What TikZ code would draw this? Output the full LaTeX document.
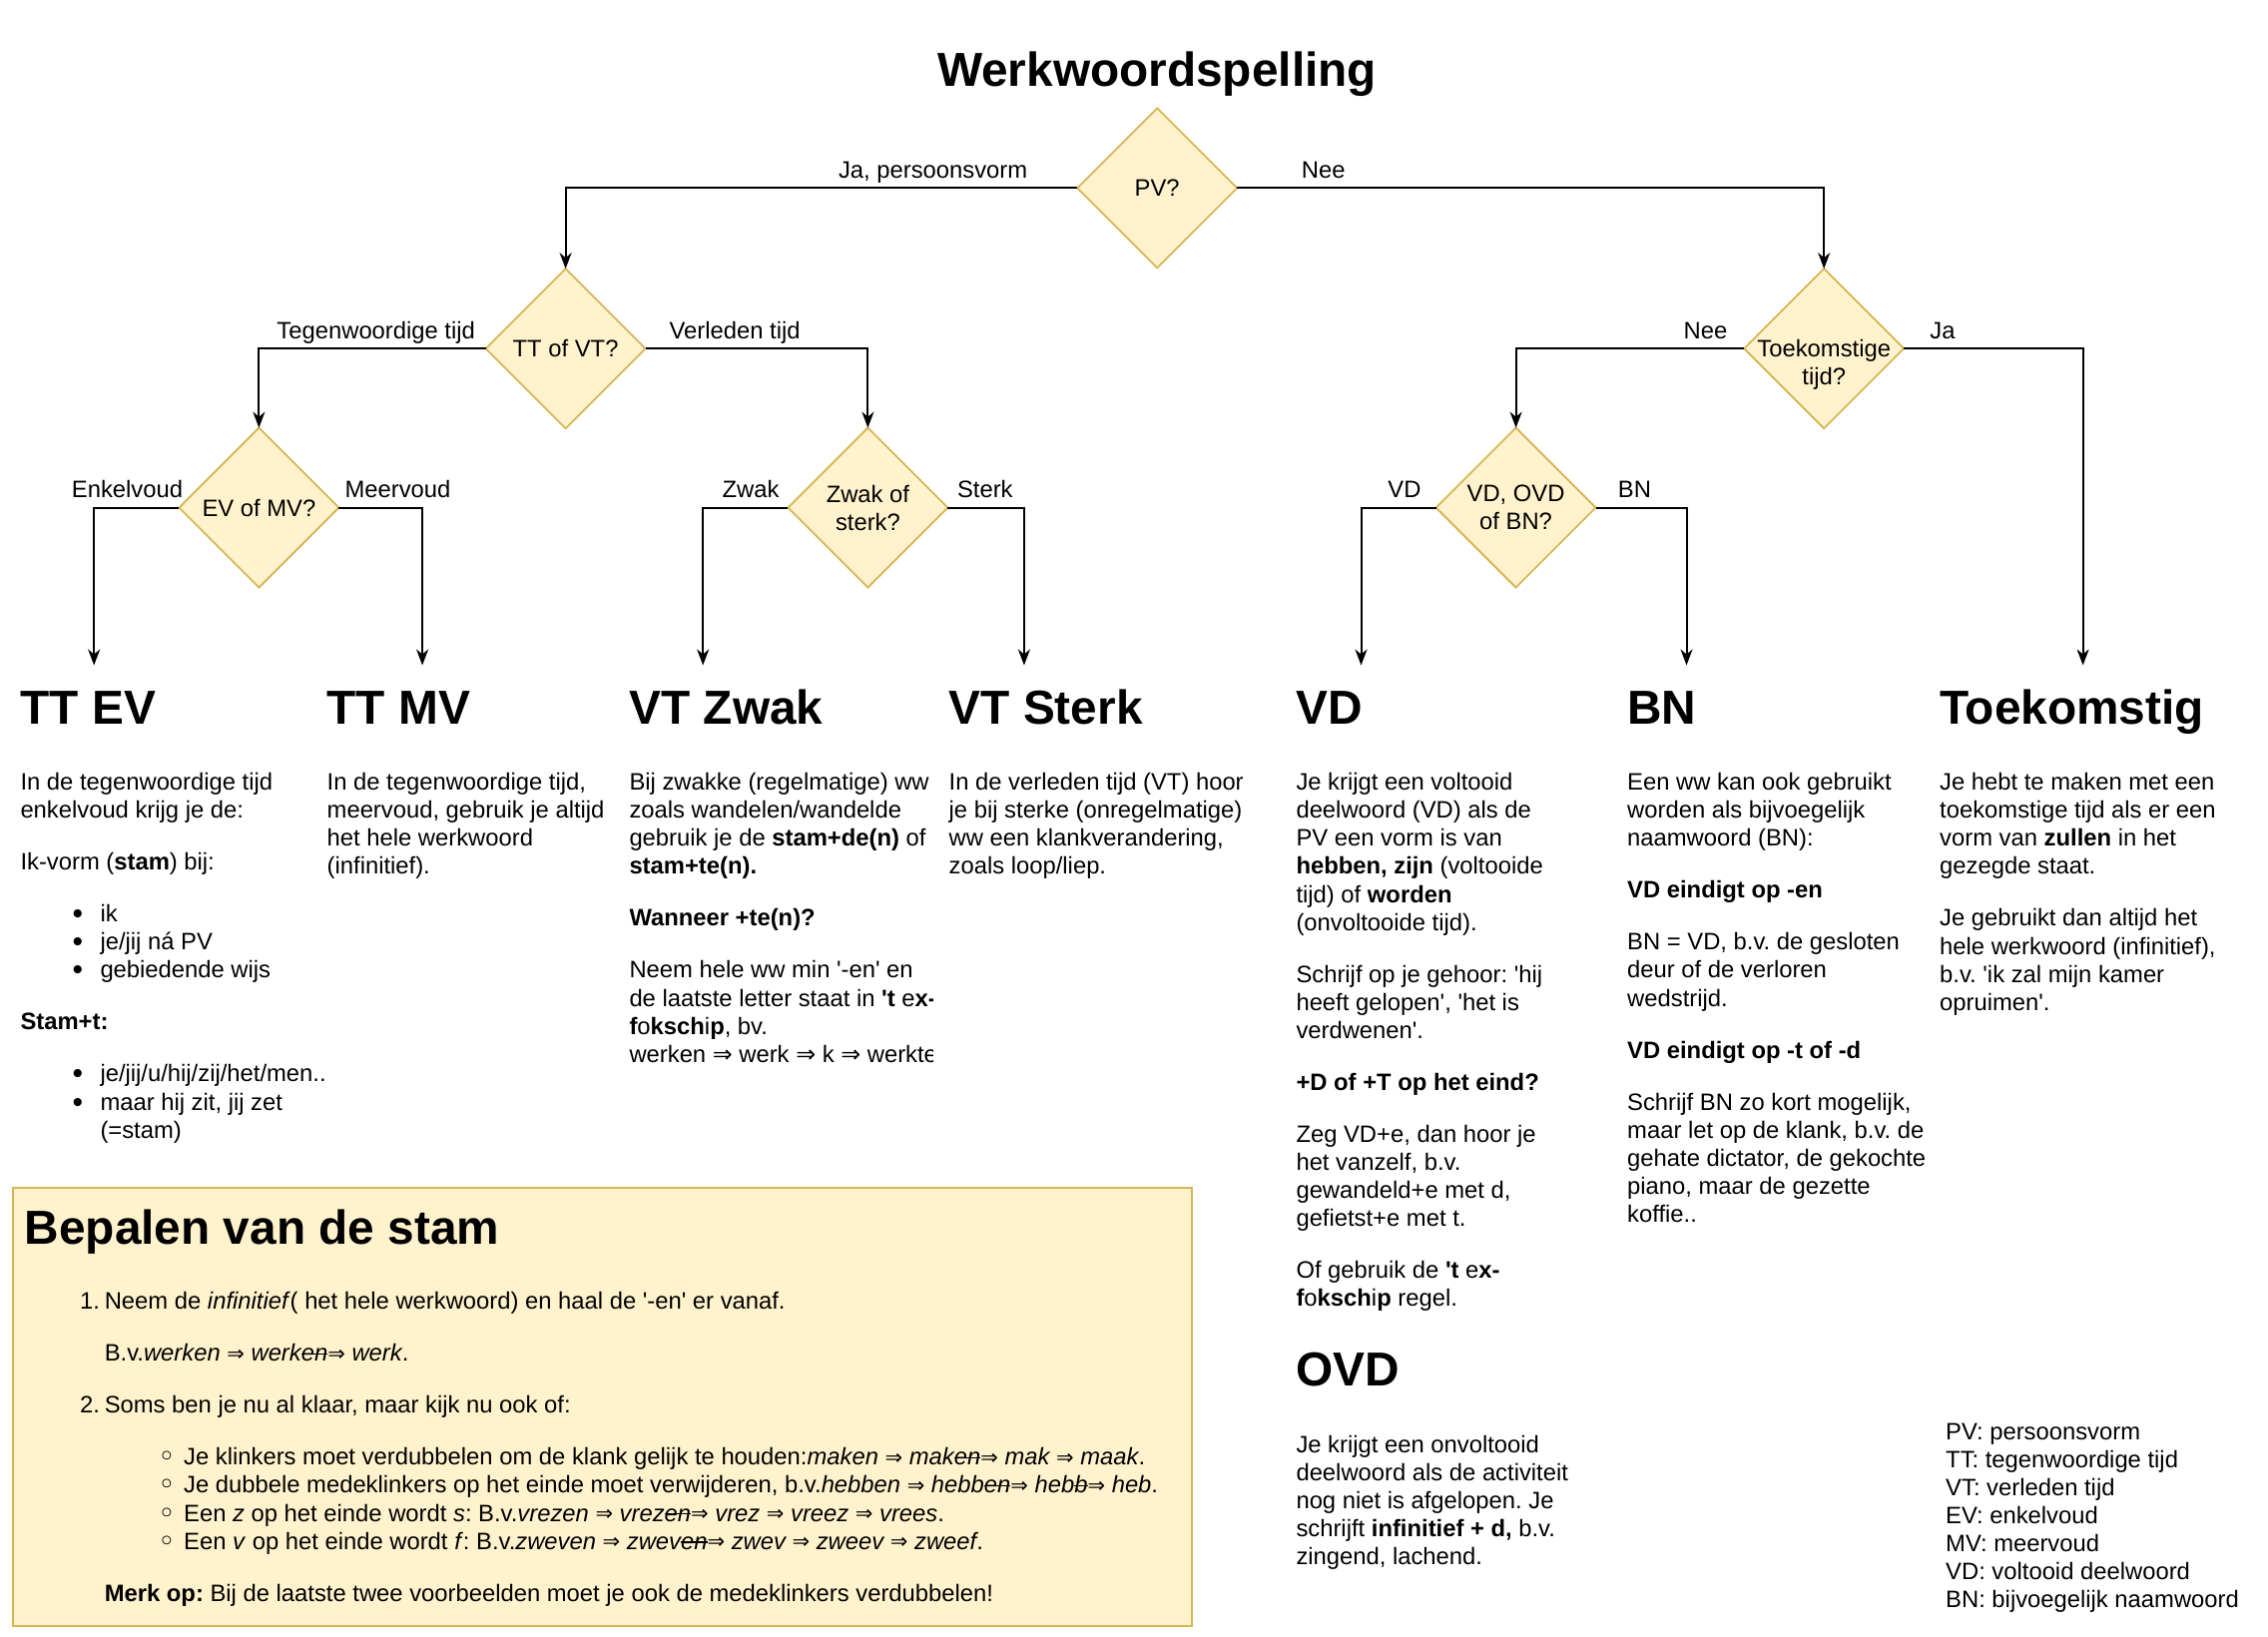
\documentclass[tikz,border=0pt]{standalone}
\usepackage{fontspec}
\setmainfont{Liberation Sans}[Ligatures=TeXOff]
\newfontfamily\symf{DejaVu Sans}
\usetikzlibrary{shapes.geometric,arrows.meta}
\definecolor{dfill}{HTML}{FFF2CC}
\definecolor{dline}{HTML}{D6B656}
\hyphenpenalty=10000
\frenchspacing
\newcommand\bodyfont{\fontsize{23.8}{28.1}\selectfont}
\newcommand\headfont{\fontsize{47.8}{56}\selectfont\bfseries}
\newcommand\IMP{{\upshape\symf\fontsize{21}{21}\selectfont\raisebox{0.5pt}{⇒}}}
\newcommand\stk[1]{\sbox0{#1}\rlap{\usebox0}\rule[0.28em]{\wd0}{1.6pt}}
\newcommand\bitem{\hspace*{52pt}\makebox[28pt][l]{\fontsize{30}{30}\selectfont\raisebox{-2pt}{•}}}
\newcommand\cbul{\hspace*{78pt}\makebox[26pt][l]{{\symf\fontsize{30}{30}\selectfont\raisebox{-2pt}{◦}}}}
\def\PG{23.9pt}
\begin{document}
\begin{tikzpicture}[x=1pt,y=-1pt,
  dia/.style={diamond, draw=dline, fill=dfill, line width=1.8pt, minimum width=160pt, minimum height=160pt, inner sep=0pt, outer sep=0pt},
  dtext/.style={font=\bodyfont, align=center, inner sep=0pt},
  arr/.style={draw=black, line width=2pt, -{Stealth[length=16pt,width=12pt,inset=5pt]}},
  lbl/.style={font=\bodyfont, inner sep=0pt, anchor=base},
  head/.style={font=\headfont, inner sep=0pt, anchor=base west},
  col/.style={font=\bodyfont, align=left, anchor=north west, inner sep=0pt},
  stambox/.style={draw=dline, fill=dfill, line width=2pt}]
\useasboundingbox (0,0) rectangle (2272,1640);

% title
\node[font=\headfont, inner sep=0pt, anchor=base] (title) at (1159,87) {Werkwoordspelling};

% diamonds
\node[dia] (pv) at (1159.2,188.4) {};
\node[dtext] (pvt) at (pv) {PV?};
\node[dia] (ttvt) at (566.6,349.2) {};
\node[dtext] (ttvtt) at (ttvt) {TT of VT?};
\node[dia] (tk) at (1827.2,349.2) {};
\node[dtext] (tkt) at ([yshift=-16pt]tk.center) {Toekomstige\\tijd?};
\node[dia] (evmv) at (259.4,508.6) {};
\node[dtext] (evmvt) at (evmv) {EV of MV?};
\node[dia] (zs) at (869.4,508.6) {};
\node[dtext] (zst) at (zs) {Zwak of\\sterk?};
\node[dia] (vdb) at (1518.6,508.6) {};
\node[dtext] (vdbt) at (vdb) {VD, OVD\\of BN?};

% arrow targets
\coordinate (aTTEV) at (94.2,666.5);
\coordinate (aTTMV) at (423.1,666.5);
\coordinate (aVTZ) at (704.2,666.5);
\coordinate (aVTS) at (1025.9,666.5);
\coordinate (aVD) at (1363.5,666.5);
\coordinate (aBN) at (1689.5,666.5);
\coordinate (aTK) at (2086.6,666.5);

% connectors
\draw[arr] (pv.west) -| (ttvt.north);
\draw[arr] (pv.east) -| (tk.north);
\draw[arr] (ttvt.west) -| (evmv.north);
\draw[arr] (ttvt.east) -| (zs.north);
\draw[arr] (tk.west) -| (vdb.north);
\draw[arr] (tk.east) -| (aTK);
\draw[arr] (evmv.west) -| (aTTEV);
\draw[arr] (evmv.east) -| (aTTMV);
\draw[arr] (zs.west) -| (aVTZ);
\draw[arr] (zs.east) -| (aVTS);
\draw[arr] (vdb.west) -| (aVD);
\draw[arr] (vdb.east) -| (aBN);

% edge labels
\node[lbl] (l1) at (934.6,178.5) {Ja, persoonsvorm};
\node[lbl] (l2) at (1325.8,178.5) {Nee};
\node[lbl] (l3) at (376.7,339.4) {Tegenwoordige tijd};
\node[lbl] (l4) at (736.1,339.4) {Verleden tijd};
\node[lbl] (l5) at (1708.4,339.4) {Nee};
\node[lbl] (l6) at (1946,339.4) {Ja};
\node[lbl] (l7) at (127.5,498.8) {Enkelvoud};
\node[lbl] (l8) at (398.5,498.8) {Meervoud};
\node[lbl] (l9) at (752,498.8) {Zwak};
\node[lbl] (l10) at (986.8,498.8) {Sterk};
\node[lbl] (l11) at (1407,498.8) {VD};
\node[lbl] (l12) at (1637.4,498.8) {BN};

% headings
\node[head] (hTTEV) at (20.3,725) {TT EV};
\node[head] (hTTMV) at (327.5,725) {TT MV};
\node[head] (hVTZ) at (630.3,725) {VT Zwak};
\node[head] (hVTS) at (950.5,725) {VT Sterk};
\node[head] (hVD) at (1298.3,725) {VD};
\node[head] (hBN) at (1630,725) {BN};
\node[head] (hTK) at (1943,725) {Toekomstig};
\node[head] (hOVD) at (1298.3,1388) {OVD};

% bodies
\node[col] (bTTEV) at (20.3,771.8) {\strut In de tegenwoordige tijd\\
enkelvoud krijg je de:\\[\PG]
Ik-vorm (\textbf{stam}) bij:\\[\PG]
\bitem ik\\
\bitem je/jij ná PV\\
\bitem gebiedende wijs\\[\PG]
\textbf{Stam+t:}\\[\PG]
\bitem je/jij/u/hij/zij/het/men..\\
\bitem maar hij zit, jij zet\\
\hspace*{80pt}(=stam)};

\node[col] (bTTMV) at (327.5,771.8) {\strut In de tegenwoordige tijd,\\
meervoud, gebruik je altijd\\
het hele werkwoord\\
(infinitief).};

\begin{scope}
\clip (600,740) rectangle (934,1100);
\node[col] (bVTZ) at (630.3,771.8) {\strut Bij zwakke (regelmatige) ww\\
zoals wandelen/wandelde\\
gebruik je de \textbf{stam+de(n)} of\\
\textbf{stam+te(n).}\\[\PG]
\textbf{Wanneer +te(n)?}\\[\PG]
Neem hele ww min '-en' en\\
de laatste letter staat in \textbf{'t} e\textbf{x-}\\
\textbf{f}o\textbf{ksch}i\textbf{p}, bv.\\
werken {\symf ⇒} werk {\symf ⇒} k {\symf ⇒} werkte};
\end{scope}

\node[col] (bVTS) at (950.5,771.8) {\strut In de verleden tijd (VT) hoor\\
je bij sterke (onregelmatige)\\
ww een klankverandering,\\
zoals loop/liep.};

\node[col] (bVD) at (1298.3,771.8) {\strut Je krijgt een voltooid\\
deelwoord (VD) als de\\
PV een vorm is van\\
\textbf{hebben, zijn} (voltooide\\
tijd) of \textbf{worden}\\
(onvoltooide tijd).\\[\PG]
Schrijf op je gehoor: 'hij\\
heeft gelopen', 'het is\\
verdwenen'.\\[\PG]
\textbf{+D of +T op het eind?}\\[\PG]
Zeg VD+e, dan hoor je\\
het vanzelf, b.v.\\
gewandeld+e met d,\\
gefietst+e met t.\\[\PG]
Of gebruik de \textbf{'t} e\textbf{x-}\\
\textbf{f}o\textbf{ksch}i\textbf{p} regel.};

\node[col] (bOVD) at (1298.3,1435.3) {\strut Je krijgt een onvoltooid\\
deelwoord als de activiteit\\
nog niet is afgelopen. Je\\
schrijft \textbf{infinitief + d,} b.v.\\
zingend, lachend.};

\node[col] (bBN) at (1630,771.8) {\strut Een ww kan ook gebruikt\\
worden als bijvoegelijk\\
naamwoord (BN):\\[\PG]
\textbf{VD eindigt op -en}\\[\PG]
BN = VD, b.v. de gesloten\\
deur of de verloren\\
wedstrijd.\\[\PG]
\textbf{VD eindigt op -t of -d}\\[\PG]
Schrijf BN zo kort mogelijk,\\
maar let op de klank, b.v. de\\
gehate dictator, de gekochte\\
piano, maar de gezette\\
koffie..};

\node[col] (bTK) at (1943,771.8) {\strut Je hebt te maken met een\\
toekomstige tijd als er een\\
vorm van \textbf{zullen} in het\\
gezegde staat.\\[\PG]
Je gebruikt dan altijd het\\
hele werkwoord (infinitief),\\
b.v. 'ik zal mijn kamer\\
opruimen'.};

% legend
\node[col] (legend) at (1949,1422.3) {\strut PV: persoonsvorm\\
TT: tegenwoordige tijd\\
VT: verleden tijd\\
EV: enkelvoud\\
MV: meervoud\\
VD: voltooid deelwoord\\
BN: bijvoegelijk naamwoord};

% stam box
\draw[stambox] (13,1190) rectangle (1194,1628.7);
\node[head] (hStam) at (24.6,1246) {Bepalen van de stam};
\node[col] (bStam) at (80,1292) {\strut\makebox[24.6pt][l]{1.}Neem de \textit{infinitief}( het hele werkwoord) en haal de '-en' er vanaf.\\[\PG]
\hspace*{24.6pt}B.v.\textit{werken \IMP{} werk\stk{en}\IMP{} werk}.\\[\PG]
\makebox[24.6pt][l]{2.}Soms ben je nu al klaar, maar kijk nu ook of:\\[\PG]
\cbul Je klinkers moet verdubbelen om de klank gelijk te houden:\textit{maken \IMP{} mak\stk{en}\IMP{} mak \IMP{} maak}.\\
\cbul Je dubbele medeklinkers op het einde moet verwijderen, b.v.\textit{hebben \IMP{} hebb\stk{en}\IMP{} heb\stk{b}\IMP{} heb}.\\
\cbul Een \textit{z} op het einde wordt \textit{s}: B.v.\textit{vrezen \IMP{} vrez\stk{en}\IMP{} vrez \IMP{} vreez \IMP{} vrees}.\\
\cbul Een \textit{v} op het einde wordt \textit{f}: B.v.\textit{zweven \IMP{} zwev\stk{en}\IMP{} zwev \IMP{} zweev \IMP{} zweef}.\\[\PG]
\hspace*{24.6pt}\textbf{Merk op:} Bij de laatste twee voorbeelden moet je ook de medeklinkers verdubbelen!};
\end{tikzpicture}
\end{document}
